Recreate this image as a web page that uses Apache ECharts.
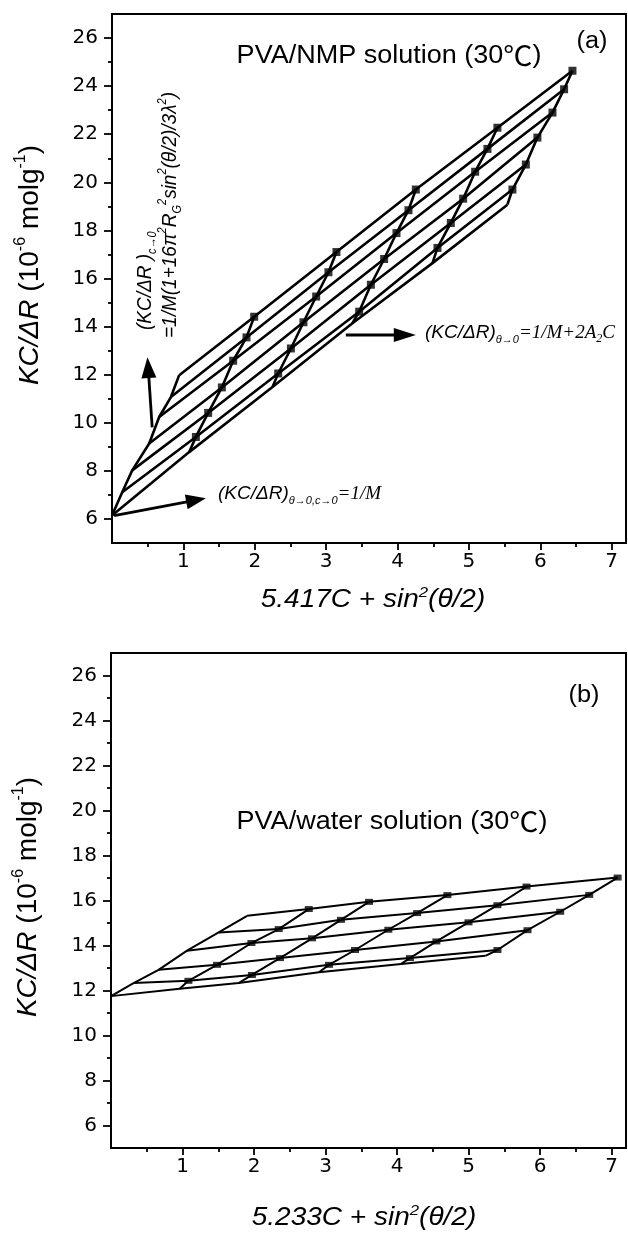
<!DOCTYPE html>
<html>
<head>
<meta charset="utf-8">
<script src="https://cdn.jsdelivr.net/npm/echarts@6/dist/echarts.min.js"></script>
<style>
  html, body { margin: 0; padding: 0; background: #fff; }
  #chart { width: 628px; height: 1233px; }
</style>
</head>
<body>
<div id="chart"></div>
<script>
// ---- Zimm plot (a): PVA/NMP, x = 5.417C + sin^2(theta/2) ----
// every list runs from the smallest scattering angle to the largest
const nmpZeroConc = [[0.143, 7.11], [0.283, 8.02], [0.521, 9.14], [0.661, 10.24], [0.825, 11.07], [0.941, 11.98]];
const nmpConc1 = [[1.175, 9.41], [1.347, 10.41], [1.539, 11.47], [1.697, 12.58], [1.884, 13.55], [1.992, 14.41]];
const nmpConc2 = [[2.328, 12.05], [2.506, 13.09], [2.682, 14.18], [2.860, 15.25], [3.032, 16.26], [3.144, 17.10]];
const nmpConc3 = [[3.462, 14.62], [3.626, 15.74], [3.812, 16.81], [3.985, 17.89], [4.153, 18.84], [4.256, 19.70]];
const nmpConc4 = [[4.559, 17.27], [4.746, 18.31], [4.919, 19.32], [5.087, 20.44], [5.259, 21.39], [5.399, 22.27]];
const nmpConc5 = [[5.609, 19.70], [5.797, 20.74], [5.959, 21.86], [6.170, 22.90], [6.333, 23.87], [6.450, 24.64]];
// theta -> 0 extrapolation: common intercept, then one point per concentration
const nmpZeroAngle = [[0, 6.14], [1.081, 8.78], [2.248, 11.49], [3.368, 14.14], [4.489, 16.64], [5.539, 19.07]];

// ---- Zimm plot (b): PVA/water, x = 5.233C + sin^2(theta/2) ----
const waterZeroConc = [[0.315, 12.33], [0.665, 12.92], [1.063, 13.77], [1.505, 14.58], [1.903, 15.32]];
const waterConc1 = [[1.082, 12.43], [1.482, 13.14], [1.963, 14.11], [2.345, 14.73], [2.765, 15.62]];
const waterConc2 = [[1.970, 12.69], [2.362, 13.44], [2.811, 14.32], [3.215, 15.14], [3.607, 15.94]];
const waterConc3 = [[3.047, 13.14], [3.411, 13.80], [3.877, 14.70], [4.280, 15.44], [4.703, 16.24]];
const waterConc4 = [[4.179, 13.44], [4.549, 14.18], [4.998, 15.03], [5.402, 15.79], [5.809, 16.62]];
const waterConc5 = [[5.403, 13.80], [5.823, 14.68], [6.280, 15.50], [6.686, 16.25], [7.083, 17.02]];
const waterZeroAngle = [[0, 11.75], [0.96, 12.08], [1.785, 12.33], [2.907, 12.81], [4.056, 13.18], [5.234, 13.54]];

// ---- axis ticks ----
const xTickValues = [1, 2, 3, 4, 5, 6, 7];
const xMinorTicks = [0.5, 1.5, 2.5, 3.5, 4.5, 5.5, 6.5];
const yTickValues = [6, 8, 10, 12, 14, 16, 18, 20, 22, 24, 26];
const yMinorTicks = [7, 9, 11, 13, 15, 17, 19, 21, 23, 25];

// ---- arrow anchors (data coordinates of panel a) ----
const arrowZeroConc = [[0.563, 9.81], [0.497, 12.73]];
const arrowZeroAngle = [[3.276, 13.65], [4.256, 13.65]];
const arrowIntercept = [[0.03, 6.14], [1.315, 6.86]];

const SANS = '"Liberation Sans", Arial, Helvetica, sans-serif';
const CJK = '"Noto Sans CJK SC", sans-serif';
const SERIF = '"Liberation Serif", "Times New Roman", serif';
const TICKFONT = '"DejaVu Sans", sans-serif';

function zimmSeries(zeroConc, concs, zeroAngle, axisIdx, lw, symSize) {
  const common = {
    type: 'line', xAxisIndex: axisIdx, yAxisIndex: axisIdx,
    symbol: 'none', silent: true, animation: false,
    lineStyle: { color: '#000', width: lw }
  };
  const out = [];
  // constant-angle lines: c->0 point followed by each concentration
  zeroConc.forEach((p, k) => {
    out.push(Object.assign({}, common, { data: [p].concat(concs.map(c => c[k])) }));
  });
  // constant-concentration lines: theta->0 point followed by the measured angles
  concs.forEach((c, g) => {
    out.push(Object.assign({}, common, { data: [zeroAngle[g + 1]].concat(c) }));
  });
  // c->0 envelope and theta->0 envelope
  out.push(Object.assign({}, common, { data: [zeroAngle[0]].concat(zeroConc) }));
  out.push(Object.assign({}, common, { data: zeroAngle }));
  // measured points
  out.push({
    type: 'scatter', xAxisIndex: axisIdx, yAxisIndex: axisIdx, silent: true, animation: false,
    symbol: 'rect', symbolSize: symSize, itemStyle: { color: '#000' },
    data: [].concat(...concs)
  });
  return out;
}

function xAxes(gi) {
  return [
    {
      gridIndex: gi, type: 'value', min: 0, max: 7.2, position: 'bottom',
      axisLine: { show: true, onZero: false, lineStyle: { color: '#000', width: 2 } },
      axisTick: { show: true, customValues: xTickValues, length: 7, lineStyle: { color: '#000', width: 1.8 } },
      axisLabel: { show: true, customValues: xTickValues, fontFamily: TICKFONT, fontSize: 20, color: '#000', margin: 9 },
      splitLine: { show: false }
    },
    {
      gridIndex: gi, type: 'value', min: 0, max: 7.2, position: 'bottom',
      axisLine: { show: false, onZero: false },
      axisTick: { show: true, customValues: xMinorTicks, length: 4, lineStyle: { color: '#000', width: 1.8 } },
      axisLabel: { show: false }, splitLine: { show: false }
    }
  ];
}
function yAxes(gi) {
  return [
    {
      gridIndex: gi, type: 'value', min: 5, max: 27, position: 'left',
      axisLine: { show: true, onZero: false, lineStyle: { color: '#000', width: 2 } },
      axisTick: { show: true, customValues: yTickValues, length: 8, lineStyle: { color: '#000', width: 1.8 } },
      axisLabel: { show: true, customValues: yTickValues, fontFamily: TICKFONT, fontSize: 20, color: '#000', margin: 14 },
      splitLine: { show: false }
    },
    {
      gridIndex: gi, type: 'value', min: 5, max: 27, position: 'left',
      axisLine: { show: false, onZero: false },
      axisTick: { show: true, customValues: yMinorTicks, length: 4, lineStyle: { color: '#000', width: 1.8 } },
      axisLabel: { show: false }, splitLine: { show: false }
    }
  ];
}

const gridStyle = { show: true, borderColor: '#000', borderWidth: 2, backgroundColor: 'transparent' };

const option = {
  animation: false,
  backgroundColor: '#fff',
  grid: [
    Object.assign({ left: 112, top: 14, width: 514, height: 529 }, gridStyle),
    Object.assign({ left: 111, top: 653, width: 515, height: 495 }, gridStyle)
  ],
  xAxis: xAxes(0).concat(xAxes(1)),
  yAxis: yAxes(0).concat(yAxes(1)),
  series: zimmSeries(nmpZeroConc, [nmpConc1, nmpConc2, nmpConc3, nmpConc4, nmpConc5], nmpZeroAngle, 0, 2.6, 8)
    .concat(zimmSeries(waterZeroConc, [waterConc1, waterConc2, waterConc3, waterConc4, waterConc5], waterZeroAngle, 2, 2, [8, 6]))
};

const chart = echarts.init(document.getElementById('chart'), null, { renderer: 'canvas' });
chart.setOption(option);

const toPx = p => chart.convertToPixel({ gridIndex: 0 }, p);

function arrow(pair, headLen, headWidth, lw) {
  const a = toPx(pair[0]), b = toPx(pair[1]);
  const dx = b[0] - a[0], dy = b[1] - a[1];
  const L = Math.hypot(dx, dy);
  const ux = dx / L, uy = dy / L, nx = -uy, ny = ux;
  const bx = b[0] - ux * headLen, by = b[1] - uy * headLen;
  return [
    { type: 'line', silent: true, shape: { x1: a[0], y1: a[1], x2: bx + ux * 2, y2: by + uy * 2 },
      style: { stroke: '#000', lineWidth: lw } },
    { type: 'polygon', silent: true,
      shape: { points: [[b[0], b[1]], [bx + nx * headWidth / 2, by + ny * headWidth / 2], [bx - nx * headWidth / 2, by - ny * headWidth / 2]] },
      style: { fill: '#000' } }
  ];
}

function rs(family, style, size, lh, va) {
  const o = { fontFamily: family, fontStyle: style, fontSize: size, lineHeight: lh, fill: '#000' };
  if (va) o.verticalAlign = va;
  return o;
}

function text(x, y, str, rich, opt) {
  opt = opt || {};
  return {
    type: 'text', silent: true, x: x, y: y,
    rotation: opt.rotation || 0, scaleX: opt.scaleX || 1, scaleY: opt.scaleY || 1,
    style: {
      x: 0, y: 0, text: str, rich: rich,
      fontFamily: SANS, fontSize: opt.size || 19, fontStyle: opt.fontStyle || 'normal',
      lineHeight: opt.lh || 24, fill: '#000',
      align: opt.align || 'center', verticalAlign: 'middle'
    }
  };
}

const annoRich = {
  s: rs(SANS, 'italic', 19, 24),
  sub: rs(SANS, 'italic', 11, 8, 'bottom'),
  sup: rs(SANS, 'italic', 11, 8, 'top'),
  t: rs(SERIF, 'italic', 19, 24),
  tsub: rs(SERIF, 'italic', 12, 8, 'bottom')
};
const nameRich = {
  i: rs(SANS, 'italic', 28, 34),
  n: rs(SANS, 'normal', 28, 34),
  sup: rs(SANS, 'normal', 16, 10, 'top')
};
const xNameRich = {
  i: rs(SANS, 'italic', 25, 30),
  sup: rs(SANS, 'italic', 15, 10, 'top')
};
const titleRich = { n: rs(SANS, 'normal', 25, 30), c: rs(CJK, 'normal', 27, 30) };
const tagRich = { n: rs(SANS, 'normal', 23, 28) };

const V = Math.PI / 2;
const graphics = [].concat(
  arrow(arrowZeroConc, 21, 15, 2.8),
  arrow(arrowZeroAngle, 22, 14, 2.8),
  arrow(arrowIntercept, 20, 15, 2.8),
  [
    // panel a
    text(389, 56, '{n|PVA/NMP solution (30}{c|℃}{n|)}', titleRich, { scaleX: 1.08, lh: 30 }),
    text(592, 42, '{n|(a)}', tagRich, { scaleX: 1.1, lh: 28 }),
    text(30, 265, '{i|KC/ΔR}{n| (10}{sup|-6}{n| molg}{sup|-1}{n|)}', nameRich, { rotation: V, lh: 34 }),
    text(373, 600, '{i|5.417C + sin}{sup|2}{i|(θ/2)}', xNameRich, { scaleX: 1.12, lh: 30 }),
    text(145, 330, '{s|(KC/ΔR )}{sub|c→0}', annoRich, { rotation: V, align: 'left', scaleY: 1.1 }),
    text(170, 338, '{s|=1/M(1+16π}{sup|2}{s|R}{sub|G}{sup|2}{s|sin}{sup|2}{s|(θ/2)/3λ}{sup|2}{s|)}', annoRich, { rotation: V, align: 'left', scaleY: 1.1 }),
    text(425, 333, '{s|(KC/ΔR)}{sub|θ→0}{t|=1/M+2A}{tsub|2}{t|C}', annoRich, { align: 'left' }),
    text(218, 494, '{s|(KC/ΔR)}{sub|θ→0,c→0}{t|=1/M}', annoRich, { align: 'left' }),
    // panel b
    text(392, 822, '{n|PVA/water solution (30}{c|℃}{n|)}', titleRich, { scaleX: 1.08, lh: 30 }),
    text(584, 696, '{n|(b)}', tagRich, { scaleX: 1.1, lh: 28 }),
    text(28, 897, '{i|KC/ΔR}{n| (10}{sup|-6}{n| molg}{sup|-1}{n|)}', nameRich, { rotation: V, lh: 34 }),
    text(364, 1218, '{i|5.233C + sin}{sup|2}{i|(θ/2)}', xNameRich, { scaleX: 1.12, lh: 30 })
  ]
);

chart.setOption({ graphic: { elements: graphics } });
</script>
</body>
</html>
